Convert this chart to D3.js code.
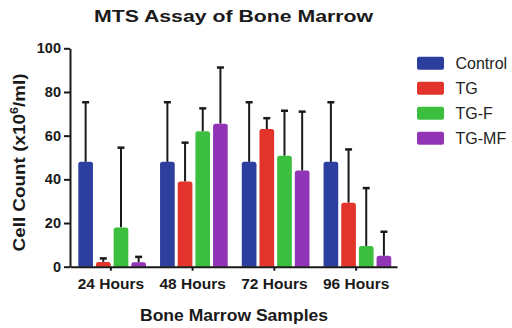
<!DOCTYPE html>
<html><head><meta charset="utf-8">
<script src="https://cdn.jsdelivr.net/npm/d3@7"></script>
<style>
html,body{margin:0;padding:0;background:#fff;}
svg{display:block;font-family:"Liberation Sans",Arial,sans-serif;}
</style></head>
<body>
<svg id="chart" width="512" height="328"></svg>
<script>
const categories = ["24 Hours", "48 Hours", "72 Hours", "96 Hours"];
const series = ["Control", "TG", "TG-F", "TG-MF"];
const colors = ["#2C3E9E", "#E2342A", "#3CBF3F", "#9134B5"];
const controlValues = [48, 48, 48, 48];
const tgValues = [2.2, 39, 63, 29.3];
const tgfValues = [18, 62, 50.8, 9.5];
const tgmfValues = [2, 65.5, 44, 5];
const controlErr = [75.3, 75.3, 75.3, 75.3];
const tgErr = [3.8, 56.8, 68, 53.7];
const tgfErr = [54.5, 72.5, 71.4, 36];
const tgmfErr = [4.5, 91.2, 71, 16];
const yTicks = [0, 20, 40, 60, 80, 100];

const values = [controlValues, tgValues, tgfValues, tgmfValues];
const errs = [controlErr, tgErr, tgfErr, tgmfErr];

const svg = d3.select("#chart");
const x0 = d3.scaleBand().domain(categories).range([70, 397]);
const x1 = d3.scaleBand().domain(series).range([8.3, 76]).paddingInner(0.17);
const y = d3.scaleLinear().domain([0, 100]).range([266.7, 48.3]);
const color = d3.scaleOrdinal().domain(series).range(colors);

const data = [];
categories.forEach((c, i) => series.forEach((s, j) => data.push({c, s, v: values[j][i], e: errs[j][i]})));

// error bars (behind bars)
const eg = svg.append("g").attr("stroke", "#1a1a1a").attr("stroke-width", 2);
data.forEach(d => {
  const cx = x0(d.c) + x1(d.s) + x1.bandwidth() / 2;
  eg.append("line").attr("x1", cx).attr("x2", cx).attr("y1", y(d.v)).attr("y2", y(d.e));
  eg.append("line").attr("x1", cx - 3.5).attr("x2", cx + 3.5).attr("y1", y(d.e)).attr("y2", y(d.e)).attr("stroke-width", 2.5);
});

// bars with slightly rounded tops
svg.append("g").selectAll("path").data(data).join("path")
  .attr("fill", d => color(d.s))
  .attr("d", d => {
    const x = x0(d.c) + x1(d.s), w = x1.bandwidth();
    const top = y(d.v), bot = y(0);
    const r = Math.min(2.5, (bot - top) / 2);
    return `M${x},${bot}V${top + r}Q${x},${top} ${x + r},${top}H${x + w - r}Q${x + w},${top} ${x + w},${top + r}V${bot}Z`;
  });

// y axis
const ya = svg.append("g").attr("transform", "translate(70,0)")
  .call(d3.axisLeft(y).tickValues(yTicks).tickSize(6).tickPadding(3).tickSizeOuter(0));
ya.select(".domain").attr("stroke", "#1a1a1a").attr("stroke-width", 2);
ya.selectAll(".tick line").attr("stroke", "#1a1a1a").attr("stroke-width", 2);
ya.selectAll(".tick text").attr("font-size", "14.5px").attr("font-weight", "bold").attr("fill", "#1a1a1a")
  .attr("font-family", "Liberation Sans, Arial, sans-serif");

// x axis
const xa = svg.append("g").attr("transform", "translate(0,266.7)")
  .call(d3.axisBottom(x0).tickSize(4).tickPadding(7).tickSizeOuter(0));
xa.select(".domain").attr("stroke", "#1a1a1a").attr("stroke-width", 2);
xa.selectAll(".tick line").attr("stroke", "#1a1a1a").attr("stroke-width", 2);
xa.selectAll(".tick text").attr("font-size", "15.5px").attr("font-weight", "bold").attr("fill", "#1a1a1a")
  .attr("font-family", "Liberation Sans, Arial, sans-serif");

// title
svg.append("text").attr("x", 233.5).attr("y", 21.7).attr("text-anchor", "middle")
  .attr("font-size", "17px").attr("font-weight", "bold").attr("fill", "#1a1a1a")
  .attr("textLength", 279).attr("lengthAdjust", "spacingAndGlyphs")
  .text("MTS Assay of Bone Marrow");

// x axis title
svg.append("text").attr("x", 234).attr("y", 320.7).attr("text-anchor", "middle")
  .attr("font-size", "16.5px").attr("font-weight", "bold").attr("fill", "#1a1a1a")
  .attr("textLength", 188).attr("lengthAdjust", "spacingAndGlyphs")
  .text("Bone Marrow Samples");

// y axis title
const yl = svg.append("text").attr("transform", "translate(25,162.5) rotate(-90)")
  .attr("text-anchor", "middle").attr("font-size", "16.5px").attr("font-weight", "bold").attr("fill", "#1a1a1a")
  .attr("textLength", 178).attr("lengthAdjust", "spacingAndGlyphs");
yl.append("tspan").text("Cell Count (x10");
yl.append("tspan").attr("font-size", "11px").attr("dy", "-7").text("6");
yl.append("tspan").attr("dy", "7").text("/ml)");

// legend
const lg = svg.append("g");
series.forEach((s, i) => {
  const cy = 63.3 + i * 25;
  lg.append("rect").attr("x", 417).attr("y", cy - 6.5).attr("width", 27).attr("height", 13).attr("rx", 2)
    .attr("fill", color(s));
  lg.append("text").attr("x", 455.5).attr("y", cy).attr("dy", "0.36em")
    .attr("font-size", "16px").attr("fill", "#222").text(s);
});
</script>
</body></html>
